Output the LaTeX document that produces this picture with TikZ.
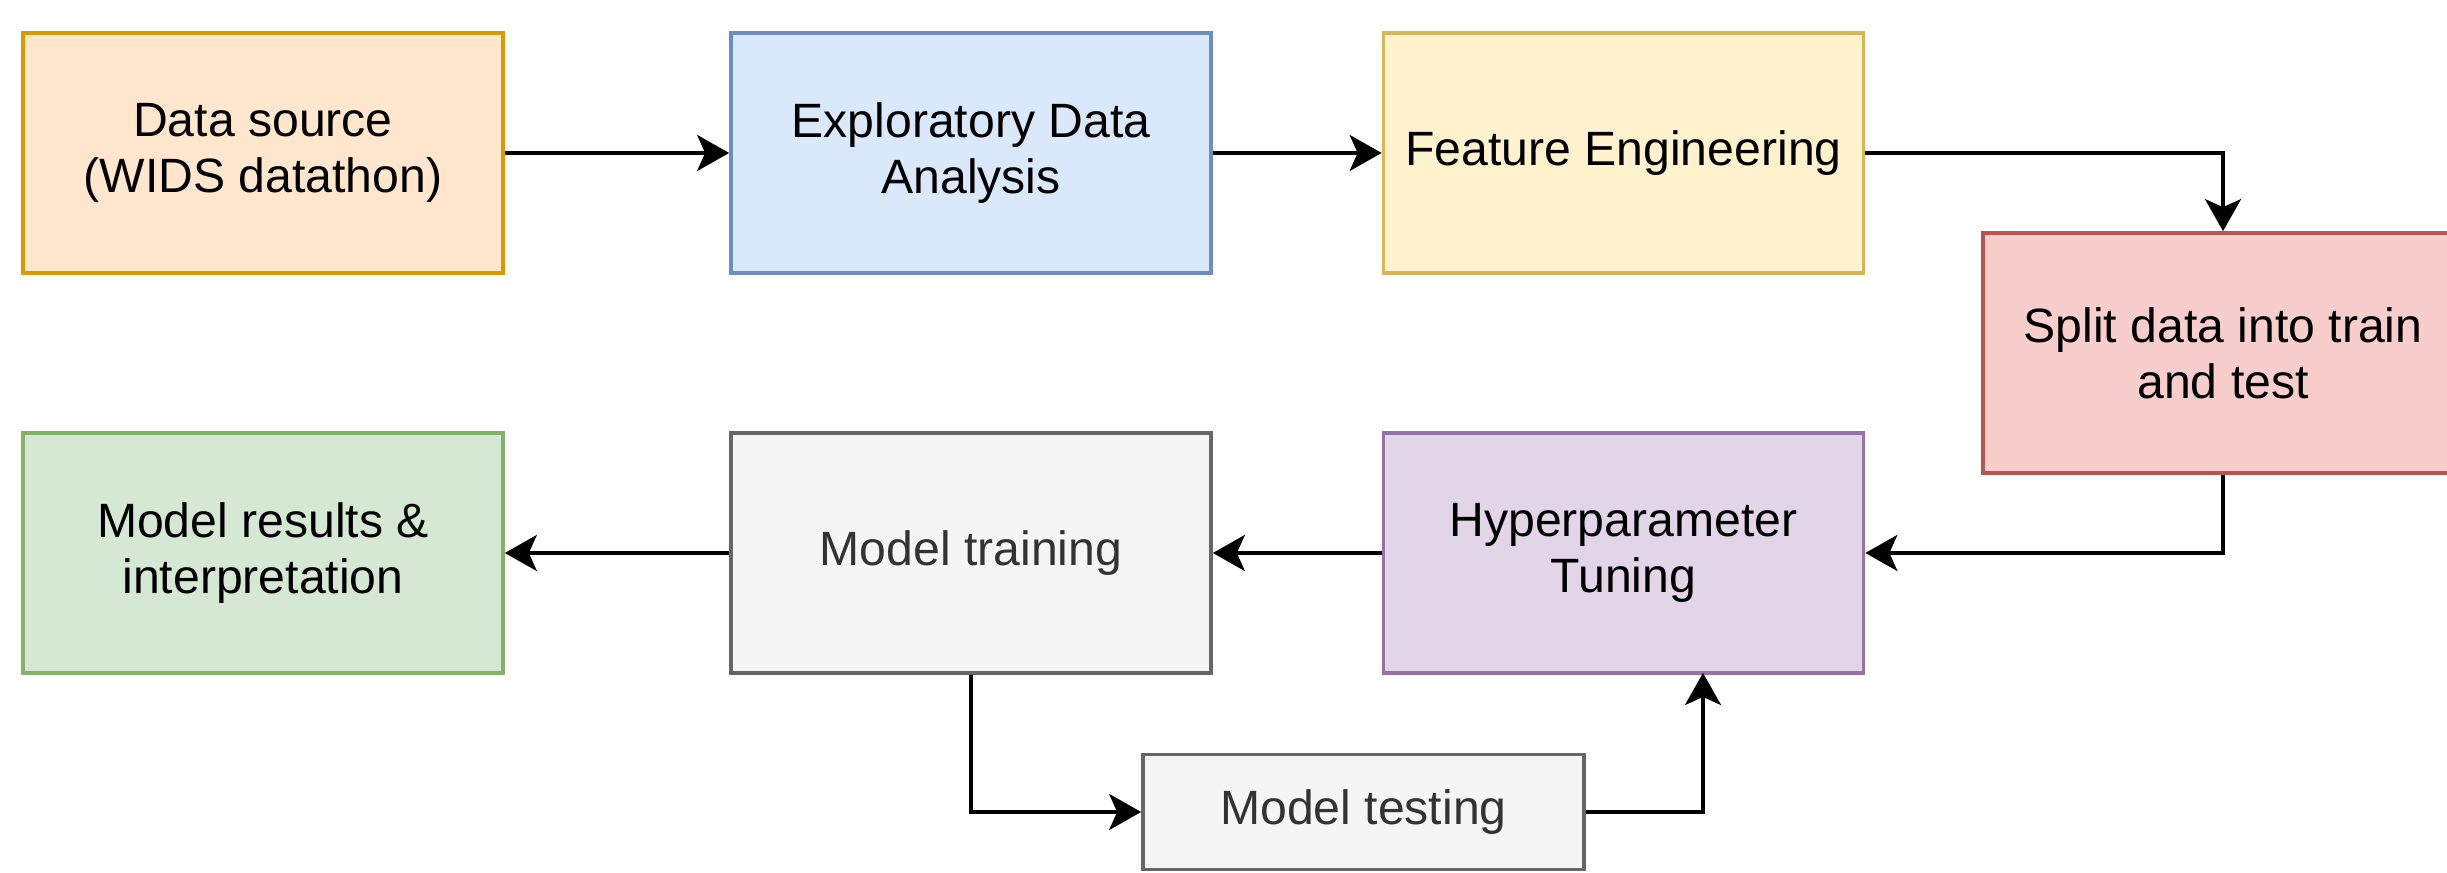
\documentclass[tikz,border=0pt]{standalone}
\usepackage{fontspec}
\setmainfont{Liberation Sans}
\usetikzlibrary{arrows.meta}
\definecolor{orfill}{HTML}{FFE6CC}\definecolor{ordraw}{HTML}{D79B00}
\definecolor{blfill}{HTML}{DAE8FC}\definecolor{bldraw}{HTML}{6C8EBF}
\definecolor{yefill}{HTML}{FFF2CC}\definecolor{yedraw}{HTML}{D6B656}
\definecolor{refill}{HTML}{F8CECC}\definecolor{redraw}{HTML}{B85450}
\definecolor{pufill}{HTML}{E1D5E7}\definecolor{pudraw}{HTML}{9673A6}
\definecolor{grfill}{HTML}{F5F5F5}\definecolor{grdraw}{HTML}{666666}\definecolor{grtext}{HTML}{333333}
\definecolor{gnfill}{HTML}{D5E8D4}\definecolor{gndraw}{HTML}{82B366}
\begin{document}
\begin{tikzpicture}[x=1cm,y=1cm,
  box/.style={draw, line width=1.05pt, minimum width=4.80cm, minimum height=2.40cm, align=center,
    inner sep=0pt, font=\fontsize{13.7}{15.9}\selectfont},
  conn/.style={line width=1pt, -{Stealth[length=0.32cm, width=0.36cm, inset=0.08cm]}}]
\useasboundingbox (0,0) rectangle (24.47,8.73);
\node[box, fill=orfill, draw=ordraw] (ds) at (2.63,7.20) {Data source\\(WIDS datathon)};
\node[box, fill=blfill, draw=bldraw] (eda) at (9.71,7.20) {Exploratory Data\\Analysis};
\node[box, fill=yefill, draw=yedraw] (fe) at (16.235,7.20) {Feature Engineering};
\node[box, fill=refill, draw=redraw] (split) at (22.23,5.20) {Split data into train\\and test};
\node[box, fill=pufill, draw=pudraw] (hyp) at (16.235,3.20) {Hyperparameter\\Tuning};
\node[box, fill=grfill, draw=grdraw, text=grtext] (train) at (9.71,3.20) {Model training};
\node[box, fill=gnfill, draw=gndraw] (res) at (2.63,3.20) {Model results \&\\interpretation};
\node[box, fill=grfill, draw=grdraw, text=grtext, minimum width=4.41cm, minimum height=1.15cm] (test) at (13.635,0.61) {Model testing};
\coordinate (hypin) at (17.03,2.00);
\draw[conn] (ds) -- (eda);
\draw[conn] (eda) -- (fe);
\draw[conn] (fe.east) -| (split.north);
\draw[conn] (split.south) |- (hyp.east);
\draw[conn] (hyp) -- (train);
\draw[conn] (train) -- (res);
\draw[conn] (train.south) |- (test.west);
\draw[conn] (test.east) -| (hypin);
\end{tikzpicture}
\end{document}
